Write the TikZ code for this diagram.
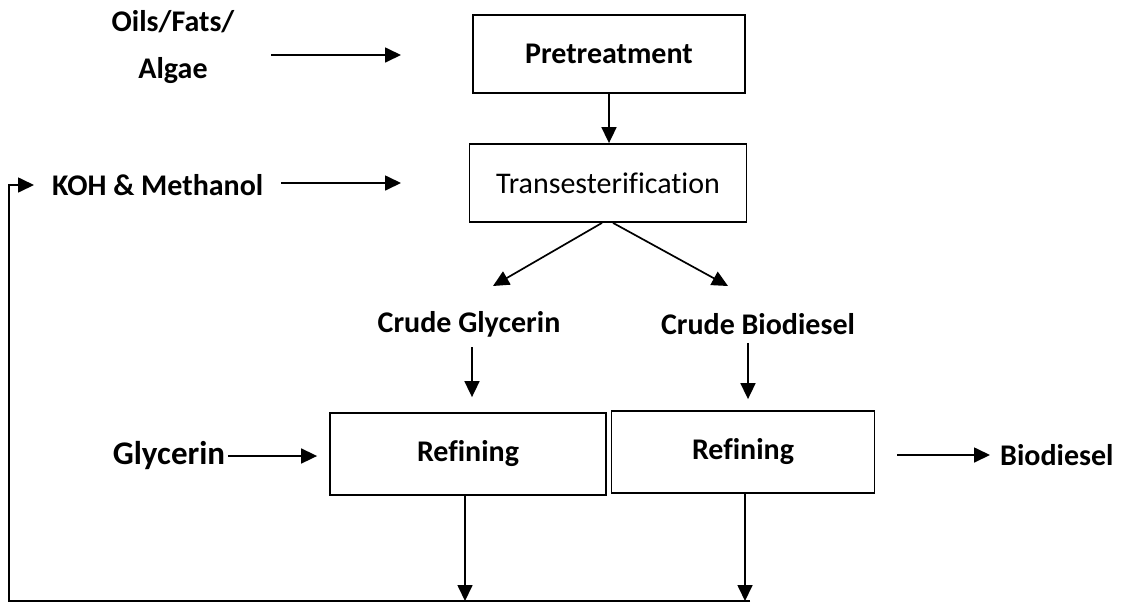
\documentclass[tikz,border=0pt]{standalone}
\usepackage{fontspec}
\setmainfont{Carlito}[Ligatures=NoCommon]
\usetikzlibrary{arrows.meta, positioning}
\tikzset{
    procbox/.style={draw, line width=1.8pt, minimum height=78pt, inner sep=0pt, font=\bfseries},
    txt/.style={inner sep=0pt, font=\bfseries, align=center},
    flow/.style={-{Triangle[length=16pt, width=15pt]}, line width=1.7pt}
}

\begin{document}
\fontsize{30}{47}\selectfont
\begin{tikzpicture}[x=1pt, y=-1pt]
        \useasboundingbox (0,0) rectangle (1123,603);

        % Kasten
        \node[procbox, minimum width=272pt] (pre) at (609,54) {Pretreatment};
        \node[procbox, minimum width=277pt, font=\mdseries] (trans) at (608,183) {Transesterification};
        \node[procbox, minimum width=276pt, minimum height=82pt] (refL) at (468,454) {Refining};
        \node[procbox, minimum width=263pt, minimum height=82pt] (refR) at (743,452) {\raisebox{-3pt}{Refining}};

        % Texte
        \node[txt] (oils) at (173,47) {Oils/Fats/\\Algae};
        \node[txt, anchor=west] (koh) at (52,185) {KOH \& Methanol};
        \node[txt] (cg) at (469,324) {Crude Glycerin};
        \node[txt] (cb) at (758,324) {Crude Biodiesel};
        \node[txt, font=\bfseries\fontsize{33}{40}\selectfont] (gly) at (169,456) {Glycerin};
        \node[txt, anchor=west] (bio) at (1000,455) {Biodiesel};

        % freie Enden
        \coordinate (oilsout) at (271,55);
        \coordinate (prein) at (401,55);
        \coordinate (kohout) at (281,183);
        \coordinate (transin) at (401,183);
        \coordinate (cgin) at (493,286);
        \coordinate (cbin) at (728,286);
        \coordinate (loop) at (9,601);

        % Verbindungen
        \draw[flow] (oilsout) -- (prein);
        \draw[flow] (kohout) -- (transin);
        \draw[flow] (pre) -- (pre |- trans.north);
        \draw[flow] ([xshift=-6pt]trans.south) -- (cgin);
        \draw[flow] ([xshift=5pt]trans.south) -- (cbin);
        \draw[flow, shorten <=10pt, shorten >=15pt] ([xshift=3pt]cg.south) -- ([xshift=3pt]cg.south |- refL.north);
        \draw[flow, shorten <=8pt, shorten >=11pt] ([xshift=-10pt]cb.south) -- ([xshift=-10pt]cb.south |- refR.north);
        \draw[flow, shorten <=3pt, shorten >=12pt] (gly) -- (gly -| refL.west);
        \draw[flow, shorten <=22pt, shorten >=10pt] (refR.east |- bio) -- (bio);
        \draw[flow] ([xshift=-3pt]refL.south) -- ([xshift=-3pt]refL.south |- loop);
        \draw[flow] ([xshift=2pt]refR.south) -- ([xshift=2pt]refR.south |- loop);
        \draw[flow] ([xshift=7pt]refR.south |- loop) -- (loop) |- ([xshift=-18pt]koh.west);
\end{tikzpicture}
\end{document}
